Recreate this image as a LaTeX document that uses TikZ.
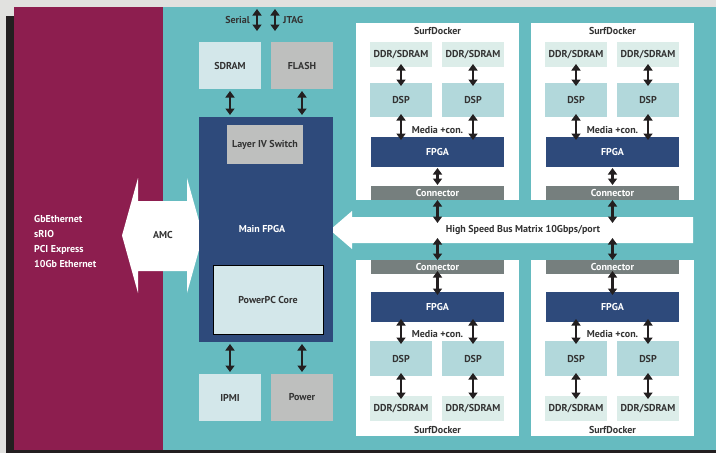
\documentclass[tikz,border=0pt]{standalone}
\usepackage{fontspec}
\setmainfont{PT Sans}
\usetikzlibrary{arrows.meta}

\definecolor{bggray}{HTML}{E1E1DF}
\definecolor{darkedge}{HTML}{231F20}
\definecolor{amcred}{HTML}{8D1E4F}
\definecolor{carrier}{HTML}{66BBC0}
\definecolor{navy}{HTML}{2E4A7B}
\definecolor{lightfill}{HTML}{D3E7EA}
\definecolor{grayfill}{HTML}{BEBFBE}
\definecolor{ddrfill}{HTML}{DCEDE9}
\definecolor{dspfill}{HTML}{B2D8DB}
\definecolor{confill}{HTML}{767F7E}
\definecolor{textdark}{HTML}{333333}

\tikzset{
	box/.style={shape=rectangle, inner sep=0pt, outer sep=0pt, text=textdark},
	lightbox/.style={box, fill=lightfill, minimum width=62pt, minimum height=47pt},
	graybox/.style={box, fill=grayfill, minimum width=62pt, minimum height=47pt},
	ddrbox/.style={box, fill=ddrfill, minimum width=62pt, minimum height=25pt},
	dspbox/.style={box, fill=dspfill, minimum width=62pt, minimum height=34pt},
	fpgabox/.style={box, fill=navy, text=white, minimum width=133pt, minimum height=30pt},
	conbox/.style={box, fill=confill, text=white, minimum width=133pt, minimum height=14pt},
	dockbox/.style={box, fill=white, minimum width=163pt, minimum height=177pt},
	plain/.style={inner sep=0pt, text=textdark},
	dbl/.style={{Triangle[width=9pt,length=6.5pt]}-{Triangle[width=9pt,length=6.5pt]}, line width=2.8pt, draw=darkedge},
	link/.style={dbl, shorten <=2pt, shorten >=2pt},
	sdlink/.style={dbl, shorten <=-3pt, shorten >=-3pt},
}

\begin{document}
\begin{tikzpicture}[x=1pt, y=-1pt, font=\bfseries\fontsize{10}{12}\selectfont]
	\useasboundingbox (0,0) rectangle (716,453);
	\fill[bggray]   (0,0)   rectangle (716,453);
	\fill[darkedge] (6,16)  rectangle (716,453);
	\fill[amcred]   (14,7)  rectangle (163,450);
	\fill[carrier]  (163,7) rectangle (716,450);

	\fill[white] (122,235.5) -- (138,178) -- (138,201) -- (187,201) -- (187,178) -- (203,235.5)
		-- (187,293) -- (187,271) -- (138,271) -- (138,293) -- cycle;
	\fill[white] (330,230) -- (352,211) -- (352,217) -- (693,217) -- (693,243) -- (352,243) -- (352,249) -- cycle;

	\node[plain, text=white, anchor=west, align=left, font=\bfseries\fontsize{10}{15}\selectfont] (ports) at (34,241) {GbEthernet\\sRIO\\PCI Express\\10Gb Ethernet};
	\node[plain] (amc) at (163,235) {AMC};
	\node[plain] (bus) at (523,230) {High Speed Bus Matrix 10Gbps/port};

	\node[plain, anchor=east] (serial) at (250,20) {Serial};
	\node[plain, anchor=west] (jtag)   at (283,20) {JTAG};
	\coordinate (sertop) at (257,9);
	\coordinate (serbot) at (257,31);
	\coordinate (jtagtop) at (275,9);
	\coordinate (jtagbot) at (275,31);
	\draw[dbl] (sertop) -- (serbot);
	\draw[dbl] (jtagtop) -- (jtagbot);

	\node[lightbox] (sdram) at (230,65.5) {SDRAM};
	\node[graybox]  (flash) at (302,65.5) {FLASH};
	\node[box, fill=navy, minimum width=134pt, minimum height=225pt] (mainfpga) at (266,229.5) {};
	\node[plain, text=white] (mainlabel) at (262,229) {Main FPGA};
	\node[box, fill=grayfill, minimum width=76pt, minimum height=39pt] (switch) at (265,144.5) {Layer IV Switch};
	\node[box, fill=lightfill, draw=black, line width=0.7pt, minimum width=110pt, minimum height=69pt] (ppc) at (268,299.5) {PowerPC Core};
	\node[lightbox] (ipmi)  at (230,397.5) {IPMI};
	\node[graybox]  (power) at (302,397.5) {Power};

	\draw[link] (sdram.south) -- (sdram.south |- mainfpga.north);
	\draw[link] (flash.south) -- (flash.south |- mainfpga.north);
	\draw[link] (ipmi.north |- mainfpga.south) -- (ipmi.north);
	\draw[link] (power.north |- mainfpga.south) -- (power.north);

	\coordinate (bustop) at (0,223);
	\coordinate (busbot) at (0,238);

	\foreach \dx/\n in {0/1,175/2} {
		\node[dockbox] (sdT\n) at ({437.5+\dx},111.5) {};
		\node[plain]   (titleT\n) at ({437.5+\dx},31) {SurfDocker};
		\node[ddrbox]  (ddrTa\n) at ({401+\dx},54.5) {DDR/SDRAM};
		\node[ddrbox]  (ddrTb\n) at ({473+\dx},54.5) {DDR/SDRAM};
		\node[dspbox]  (dspTa\n) at ({401+\dx},100) {DSP};
		\node[dspbox]  (dspTb\n) at ({473+\dx},100) {DSP};
		\node[plain]   (mediaT\n) at ({437.5+\dx},130) {Media +con.};
		\node[fpgabox] (fpgaT\n) at ({437.5+\dx},152) {FPGA};
		\node[conbox]  (conT\n) at ({437.5+\dx},193) {Connector};

		\draw[sdlink] (ddrTa\n.south) -- (dspTa\n.north);
		\draw[sdlink] (ddrTb\n.south) -- (dspTb\n.north);
		\draw[sdlink] (dspTa\n.south) -- (dspTa\n.south |- fpgaT\n.north);
		\draw[sdlink] (dspTb\n.south) -- (dspTb\n.south |- fpgaT\n.north);
		\draw[dbl, shorten <=1pt, shorten >=1pt] (fpgaT\n.south) -- (conT\n.north);
		\draw[dbl] (conT\n.south) -- (conT\n.south |- bustop);

		\node[dockbox, minimum height=176pt] (sdB\n) at ({437.5+\dx},348) {};
		\node[conbox]  (conB\n) at ({437.5+\dx},267) {Connector};
		\node[fpgabox] (fpgaB\n) at ({437.5+\dx},307) {FPGA};
		\node[plain]   (mediaB\n) at ({437.5+\dx},334) {Media +con.};
		\node[dspbox, minimum height=35pt] (dspBa\n) at ({401+\dx},358.5) {DSP};
		\node[dspbox, minimum height=35pt] (dspBb\n) at ({473+\dx},358.5) {DSP};
		\node[ddrbox]  (ddrBa\n) at ({401+\dx},408.5) {DDR/SDRAM};
		\node[ddrbox]  (ddrBb\n) at ({473+\dx},408.5) {DDR/SDRAM};
		\node[plain]   (titleB\n) at ({437.5+\dx},430) {SurfDocker};

		\draw[dbl] (busbot -| conB\n.north) -- (conB\n.north);
		\draw[sdlink] (conB\n.south) -- (fpgaB\n.north);
		\draw[sdlink] (dspBa\n.north |- fpgaB\n.south) -- (dspBa\n.north);
		\draw[sdlink] (dspBb\n.north |- fpgaB\n.south) -- (dspBb\n.north);
		\draw[sdlink] (dspBa\n.south) -- (ddrBa\n.north);
		\draw[sdlink] (dspBb\n.south) -- (ddrBb\n.north);
	}
\end{tikzpicture}
\end{document}
